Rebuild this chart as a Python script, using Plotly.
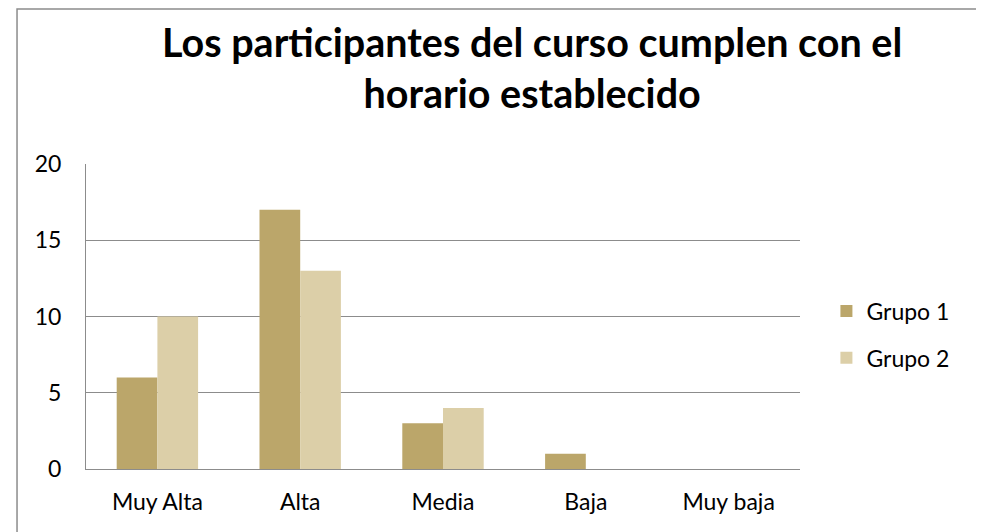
import plotly.graph_objs as go

# Datos
categorias = ["Muy Alta", "Alta", "Media", "Baja", "Muy baja"]
grupo_1 = [6, 17, 3, 1, 0]
grupo_2 = [10, 13, 4, 0, 0]
y_ticks = [0, 5, 10, 15, 20]

fig = go.Figure()
fig.add_trace(go.Bar(x=categorias, y=grupo_1, name="Grupo 1",
                     marker=dict(color="#BBA66A", line=dict(width=0)), legendgroup="g1"))
fig.add_trace(go.Bar(x=categorias, y=grupo_2, name="Grupo 2",
                     marker=dict(color="#DCCFA8", line=dict(width=0)), legendgroup="g2"))

# borde exterior del grafico (el borde inferior queda fuera de la imagen)
fig.add_shape(type="rect", xref="paper", yref="paper",
              x0=-0.0966, x1=1.2479, y0=-0.3, y1=1.508,
              line=dict(color="#8C8C8C", width=1.5), layer="below")

# titulo como anotacion para controlar su posicion
fig.add_annotation(text="<b>Los participantes del curso cumplen con el<br>horario establecido</b>",
                   xref="paper", yref="paper", x=0.6246, y=1.318,
                   xanchor="center", yanchor="middle", showarrow=False,
                   font=dict(size=39.5, family="Lato", color="black"))

# la pagina tiene un margen de 8px, por eso el tamano es 976x524
fig.update_layout(
    width=976, height=524,
    margin=dict(l=78, r=184, t=156, b=63),
    paper_bgcolor="white", plot_bgcolor="white",
    font=dict(family="Lato", size=23, color="black"),
    barmode="group", bargap=0.43, bargroupgap=0,
    showlegend=True,
    legend=dict(x=1.037, y=0.441, xanchor="left", yanchor="middle",
                tracegroupgap=14, traceorder="grouped",
                font=dict(size=23), bgcolor="rgba(0,0,0,0)"),
    xaxis=dict(showline=True, linecolor="#8C8C8C", linewidth=1,
               ticks="", ticklabelstandoff=12, showgrid=False),
    yaxis=dict(range=[0, 20], tickvals=y_ticks, showline=True,
               linecolor="#8C8C8C", linewidth=1, gridcolor="#8C8C8C",
               gridwidth=1, ticks="", ticklabelstandoff=19, zeroline=False),
)

fig.write_html("out.html")
